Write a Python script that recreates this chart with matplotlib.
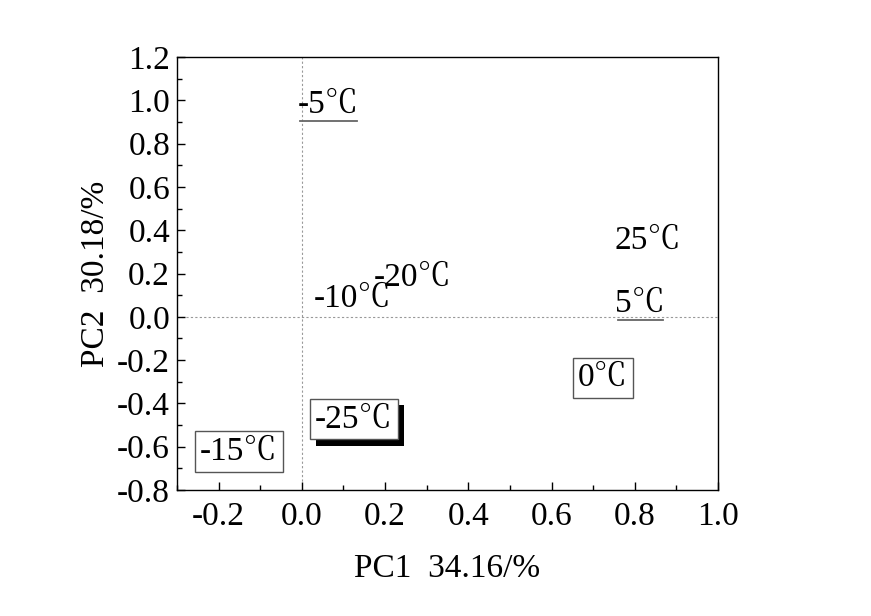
import matplotlib
matplotlib.use("Agg")
import matplotlib.pyplot as plt
import matplotlib.patheffects as pe
from matplotlib.ticker import MultipleLocator, FormatStrFormatter

plt.rcParams['font.family'] = ['Liberation Serif', 'Noto Serif CJK SC', 'Noto Sans CJK SC', 'DejaVu Serif']
plt.rcParams['axes.unicode_minus'] = False

labels = ['-5℃', '-10℃', '-20℃', '25℃', '5℃', '0℃', '-25℃', '-15℃']
pc1 = [0.064, 0.123, 0.266, 0.831, 0.813, 0.724, 0.125, -0.151]
pc2 = [0.978, 0.086, 0.179, 0.354, 0.059, -0.283, -0.473, -0.621]
style = ['underline', 'plain', 'plain', 'plain', 'underline', 'box', 'shadow', 'box']

fig = plt.figure(figsize=(8.71, 6.16), dpi=100)
ax = fig.add_axes([0.2032, 0.2045, 0.6211, 0.703])
ax.set_xlim(-0.3, 1.0)
ax.set_ylim(-0.8, 1.2)

ax.axvline(0, color='#999999', lw=0.8, ls=(0, (2, 2)), zorder=0)
ax.axhline(0, color='#999999', lw=0.8, ls=(0, (2, 2)), zorder=0)

fs = 24
for lab, x, y, st in zip(labels, pc1, pc2, style):
    if st in ('box', 'shadow'):
        t = ax.text(x, y, lab, fontsize=fs, ha='center', va='center',
                    bbox=dict(boxstyle='square,pad=0.15', fc='white', ec='#555555', lw=1.0))
        if st == 'shadow':
            t.get_bbox_patch().set_path_effects([
                pe.SimplePatchShadow(offset=(4.5, -4.5), shadow_rgbFace='black', alpha=1.0),
                pe.Normal()])
    else:
        t = ax.text(x, y, lab, fontsize=fs, ha='center', va='center')
        if st == 'underline':
            fig.canvas.draw()
            bb = t.get_window_extent().transformed(ax.transData.inverted())
            ax.plot([bb.x0 + 0.006, bb.x1 - 0.005], [y - 0.072, y - 0.072],
                    color='#666666', lw=1.3)

ax.xaxis.set_major_locator(MultipleLocator(0.2))
ax.xaxis.set_minor_locator(MultipleLocator(0.1))
ax.yaxis.set_major_locator(MultipleLocator(0.2))
ax.yaxis.set_minor_locator(MultipleLocator(0.1))
ax.xaxis.set_major_formatter(FormatStrFormatter('%.1f'))
ax.yaxis.set_major_formatter(FormatStrFormatter('%.1f'))
ax.tick_params(which='both', direction='in', top=False, right=False, labelsize=fs)
ax.tick_params(which='major', length=6, width=1)
ax.tick_params(which='minor', length=3.5, width=1)
ax.tick_params(axis='x', which='major', pad=8)
ax.tick_params(axis='y', which='major', pad=5)
for s in ax.spines.values():
    s.set_linewidth(1.0)

ax.set_xlabel('PC1  34.16/%', fontsize=fs, labelpad=16)
ax.set_ylabel('PC2  30.18/%', fontsize=fs, labelpad=4)

fig.savefig('out.png', dpi=100)
